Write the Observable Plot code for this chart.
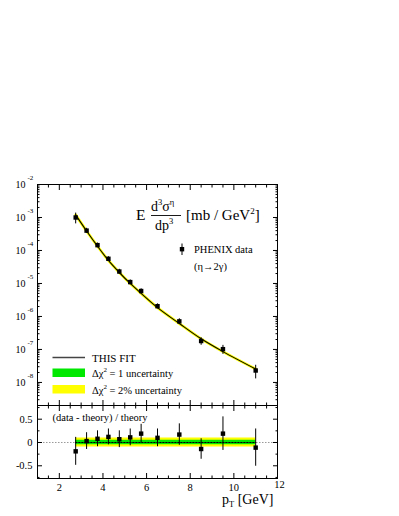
<!DOCTYPE html>
<html><head><meta charset="utf-8">
<script src="https://cdn.jsdelivr.net/npm/d3@7"></script>
<script src="https://cdn.jsdelivr.net/npm/@observablehq/plot@0.6"></script>
<style>
body{margin:0;background:#fff;}
#wrap{position:relative;width:399px;height:516px;}
#wrap > *{position:absolute;left:0;}
</style></head><body><div id="wrap"></div>
<script>
// ---- data ----
const pt       = [2.75, 3.25, 3.75, 4.25, 4.75, 5.25, 5.75, 6.5, 7.5, 8.5, 9.5, 11];
const xsec     = [1.0e-3, 4.0e-4, 1.45e-4, 5.6e-5, 2.3e-5, 1.1e-5, 5.9e-6, 2.05e-6, 7.1e-7, 1.8e-7, 1.02e-7, 2.3e-8];
const theory   = [1.2e-3, 3.9e-4, 1.35e-4, 5.0e-5, 2.15e-5, 1.0e-5, 5.0e-6, 1.85e-6, 6.1e-7, 2.1e-7, 8.6e-8, 2.55e-8];
const ratio    = [-0.19, 0.03, 0.08, 0.12, 0.07, 0.11, 0.19, 0.10, 0.17, -0.14, 0.19, -0.11];
const ratioErr = [0.30, 0.18, 0.17, 0.17, 0.18, 0.18, 0.20, 0.19, 0.23, 0.22, 0.36, 0.40];
const bandYellow = [0.095, 0.095, 0.095, 0.095, 0.095, 0.095, 0.095, 0.095, 0.095, 0.095, 0.095, 0.095];
const bandGreen  = [0.048, 0.048, 0.048, 0.048, 0.048, 0.048, 0.048, 0.048, 0.048, 0.048, 0.048, 0.048];
const xMajorTicks = [2, 4, 6, 8, 10, 12];
const xMinorTicks = [1.5, 2.5, 3, 3.5, 4.5, 5, 5.5, 6.5, 7, 7.5, 8.5, 9, 9.5, 10.5, 11, 11.5];
const yDecades = [1e-2, 1e-3, 1e-4, 1e-5, 1e-6, 1e-7, 1e-8];
const rMajorTicks = [-0.5, 0, 0.5];
const rMinorTicks = [-0.75, -0.25, 0.25, 0.75];
const rTickLabels = ["-0.5", "0", "0.5"];

const FONT = "Liberation Serif";
const GREEN = "#00e800", YELLOW = "#ffff00";
const rows = pt.map((x, i) => ({x, y: xsec[i], th: theory[i], r: ratio[i], re: ratioErr[i],
  yl: bandYellow[i], gl: bandGreen[i]}));

// minor log ticks
const logMinor = [];
for (let e = -9; e <= -3; e++) for (let k = 2; k <= 9; k++) {
  const v = k * Math.pow(10, e);
  if (v >= 2e-9 && v <= 1e-2) logMinor.push(v);
}

const common = {
  width: 399, marginLeft: 37, marginRight: 122,
  style: {background: "transparent", fontFamily: FONT, fontSize: "10px", overflow: "visible", color: "#000"},
  x: {domain: [1, 12]}
};
const noText = () => "";

const topPlot = Plot.plot({
  ...common,
  height: 405, marginTop: 184, marginBottom: 0,
  y: {type: "log", domain: [2e-9, 1e-2]},
  marks: [
    Plot.line(rows, {x: "x", y: "th", stroke: YELLOW, strokeWidth: 2.8, curve: "catmull-rom"}),
    Plot.line(rows, {x: "x", y: "th", stroke: "#000", strokeWidth: 1.1, curve: "catmull-rom"}),
    Plot.ruleX(rows, {x: "x", y1: d => d.y - d.re * d.th, y2: d => d.y + d.re * d.th, stroke: "#000", strokeWidth: 1}),
    Plot.dot(rows, {x: "x", y: "y", symbol: "square", r: 2.5, fill: "#000", stroke: "none"}),
    Plot.frame({stroke: "#000", strokeWidth: 1}),
    Plot.axisX({ticks: xMajorTicks, anchor: "top", tickSize: -5, tickFormat: noText, label: null}),
    Plot.axisX({ticks: xMinorTicks, anchor: "top", tickSize: -2.5, tickFormat: noText, label: null}),
    Plot.axisX({ticks: xMajorTicks, anchor: "bottom", tickSize: -5, tickFormat: noText, label: null}),
    Plot.axisX({ticks: xMinorTicks, anchor: "bottom", tickSize: -2.5, tickFormat: noText, label: null}),
    Plot.axisY({ticks: yDecades, anchor: "left", tickSize: -5, tickFormat: noText, label: null}),
    Plot.axisY({ticks: logMinor, anchor: "left", tickSize: -2.5, tickFormat: noText, label: null}),
    Plot.axisY({ticks: yDecades, anchor: "right", tickSize: -5, tickFormat: noText, label: null}),
    Plot.axisY({ticks: logMinor, anchor: "right", tickSize: -2.5, tickFormat: noText, label: null}),
    Plot.text(yDecades, {y: d => d, text: () => "10", frameAnchor: "left", dx: -12, textAnchor: "end", fontSize: 10, fill: "#000"}),
    Plot.text(yDecades, {y: d => d, text: d => "-" + Math.round(-Math.log10(d)), frameAnchor: "left", dx: -10, dy: -7, textAnchor: "start", fontSize: 7, fill: "#000"})
  ]
});
topPlot.style.top = "0px";

const botPlot = Plot.plot({
  ...common,
  height: 111, marginTop: 0, marginBottom: 38,
  y: {domain: [-0.773, 0.794]},
  marks: [
    Plot.ruleY([0], {stroke: "#999", strokeDasharray: "1.5,1.5", strokeWidth: 1}),
    Plot.areaY(rows, {x: "x", y1: d => -d.yl, y2: d => d.yl, fill: YELLOW}),
    Plot.areaY(rows, {x: "x", y1: d => -d.gl, y2: d => d.gl, fill: GREEN}),
    Plot.lineY(rows, {x: "x", y: () => 0, stroke: "#000", strokeDasharray: "1.5,1.5", strokeWidth: 1}),
    Plot.ruleX(rows, {x: "x", y1: d => d.r - d.re, y2: d => d.r + d.re, stroke: "#000", strokeWidth: 1}),
    Plot.dot(rows, {x: "x", y: "r", symbol: "square", r: 2.5, fill: "#000", stroke: "none"}),
    Plot.frame({stroke: "#000", strokeWidth: 1}),
    Plot.axisX({ticks: xMajorTicks, anchor: "top", tickSize: -5, tickFormat: noText, label: null}),
    Plot.axisX({ticks: xMinorTicks, anchor: "top", tickSize: -2.5, tickFormat: noText, label: null}),
    Plot.axisX({ticks: xMajorTicks, anchor: "bottom", tickSize: -5, tickFormat: noText, label: null}),
    Plot.axisX({ticks: xMinorTicks, anchor: "bottom", tickSize: -2.5, tickFormat: noText, label: null}),
    Plot.axisY({ticks: rMajorTicks, anchor: "left", tickSize: -5, tickFormat: noText, label: null}),
    Plot.axisY({ticks: rMinorTicks, anchor: "left", tickSize: -2.5, tickFormat: noText, label: null}),
    Plot.axisY({ticks: rMajorTicks, anchor: "right", tickSize: -5, tickFormat: noText, label: null}),
    Plot.axisY({ticks: rMinorTicks, anchor: "right", tickSize: -2.5, tickFormat: noText, label: null}),
    Plot.text(rMajorTicks, {y: d => d, text: (d, i) => rTickLabels[i], frameAnchor: "left", dx: -5, textAnchor: "end", fontSize: 10.5, fill: "#000"}),
    Plot.text(xMajorTicks.filter(d => d < 12), {x: d => d, text: d => String(d), frameAnchor: "bottom", dy: 12, fontSize: 10.5, fill: "#000"}),
    Plot.text(xMajorTicks.filter(d => d === 12), {x: d => d, text: d => String(d), frameAnchor: "bottom", dy: 9, dx: 2, fontSize: 10.5, fill: "#000"}),
    Plot.text(["(data - theory) / theory"], {frameAnchor: "top-left", dx: 15, dy: 8, textAnchor: "start", fontSize: 10.5, fill: "#000"})
  ]
});
botPlot.style.top = "405px";

// ---- overlay: formula, legend, x label ----
const NS = "http://www.w3.org/2000/svg";
const ov = document.createElementNS(NS, "svg");
ov.setAttribute("width", 399); ov.setAttribute("height", 516);
ov.style.top = "0px"; ov.style.fontFamily = FONT; ov.style.overflow = "visible";
ov.innerHTML = `
  <text x="136" y="220" font-size="15.5">E</text>
  <text x="151" y="211" font-size="14">d<tspan font-size="8.5" dy="-6">3</tspan><tspan dy="6">σ</tspan><tspan font-size="8.5" dy="-6">η</tspan></text>
  <line x1="151" x2="181" y1="215.5" y2="215.5" stroke="#000" stroke-width="0.9"/>
  <text x="155" y="229.5" font-size="14">dp<tspan font-size="8.5" dy="-6">3</tspan></text>
  <text x="186" y="220" font-size="15">[mb / GeV<tspan font-size="9" dy="-6">2</tspan><tspan dy="6">]</tspan></text>

  <line x1="182" x2="182" y1="243.5" y2="255" stroke="#000"/>
  <rect x="179.8" y="247" width="4.4" height="4.4" fill="#000"/>
  <text x="194" y="253" font-size="10.5">PHENIX data</text>
  <text x="194" y="270" font-size="10.5">(η→2γ)</text>

  <line x1="52.5" x2="85" y1="357.5" y2="357.5" stroke="#444" stroke-width="1.5"/>
  <text x="92" y="361.5" font-size="11">THIS FIT</text>
  <rect x="52.5" y="368.5" width="32.5" height="8.5" fill="${GREEN}"/>
  <text x="92" y="377" font-size="10.5">Δχ<tspan font-size="7" dy="-5">2</tspan><tspan dy="5"> = 1 uncertainty</tspan></text>
  <rect x="52.5" y="385" width="32.5" height="8.5" fill="${YELLOW}"/>
  <text x="92" y="393.5" font-size="10.5">Δχ<tspan font-size="7" dy="-5">2</tspan><tspan dy="5"> = 2% uncertainty</tspan></text>

  <text x="222" y="504" font-size="14">p<tspan font-size="8.5" dy="3">T</tspan><tspan dy="-3"> [GeV]</tspan></text>
`;
const wrap = document.getElementById("wrap");
wrap.appendChild(topPlot);
wrap.appendChild(botPlot);
wrap.appendChild(ov);
</script></body></html>
